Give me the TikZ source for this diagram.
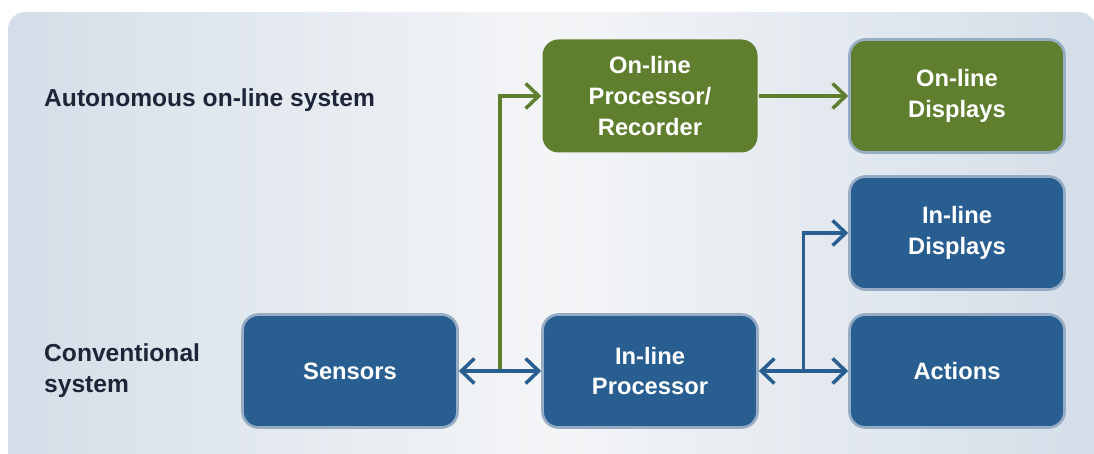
\documentclass[tikz,border=0pt]{standalone}
\usepackage{fontspec}
\setmainfont{Liberation Sans}
\usetikzlibrary{arrows.meta,
                  calc,
                  positioning,
                  shapes.geometric}
\definecolor{boxblue}{RGB}{41,94,145}
\definecolor{boxgreen}{RGB}{95,127,46}
\definecolor{boxedge}{RGB}{150,172,196}
\definecolor{labelink}{RGB}{30,37,56}
\definecolor{panelside}{RGB}{212,222,232}
\definecolor{panelmid}{RGB}{244,245,247}

\begin{document}
\begin{tikzpicture}[auto, every node/.style={font=\fontsize{13.5}{17.6}\selectfont\bfseries}]
    \tikzset{
    block/.style= {draw=boxedge, line width=1.5pt, rectangle, rounded corners=0.32cm, align=center, minimum width=4.3cm, minimum height=2.26cm, fill=boxblue, text=white},
    gblock/.style= {block, fill=boxgreen},
    gblockplain/.style= {block, draw=none, fill=boxgreen},
    sidelabel/.style= {align=left, text=labelink, anchor=west, font=\fontsize{14}{17.6}\selectfont\bfseries},
    line/.style = {draw, line width=2pt, -{Straight Barb[length=2.6mm,width=5mm,line width=2pt]}},
    twoway/.style = {line, {Straight Barb[length=2.6mm,width=5mm,line width=2pt]}-{Straight Barb[length=2.6mm,width=5mm,line width=2pt]}},
    bline/.style = {line, draw=boxblue},
    gline/.style = {line, draw=boxgreen}
}
\useasboundingbox (0,0) rectangle (21.88,9.06);
% background panel
\shade [left color=panelside, right color=panelside, middle color=panelmid, rounded corners=0.35cm] (0.16,-0.4) rectangle (21.92,8.82);

\node [sidelabel] (autolabel) at (0.76,7.06) {Autonomous on-line system};
\node [sidelabel] (convlabel) at (0.76,1.64) {Conventional\\system};

\node [block] (sensors) at (7.0,1.64) {Sensors};
\node [block, right of=sensors, node distance=6cm] (inproc) {In-line\\Processor};
\node [block, right of=inproc, node distance=6.14cm] (actions) {Actions};
\node [block, above of=actions, node distance=2.76cm] (indisp) {In-line\\Displays};
\node [gblock, above of=indisp, node distance=2.74cm] (ondisp) {On-line\\Displays};
\node [gblockplain, above of=inproc, node distance=5.5cm] (onproc) {On-line\\Processor/\\Recorder};

\node [coordinate, right of=sensors, node distance=3cm] (fork1) {};
\node [coordinate, right of=inproc, node distance=3.07cm] (fork2) {};

\path [gline] (fork1) |- (onproc);
\path [gline] (onproc) -- (ondisp);
\path [bline, twoway] (sensors) -- (inproc);
\path [bline, twoway] (inproc) -- (actions);
\path [bline] (fork2) |- (indisp);

\end{tikzpicture}
\end{document}
